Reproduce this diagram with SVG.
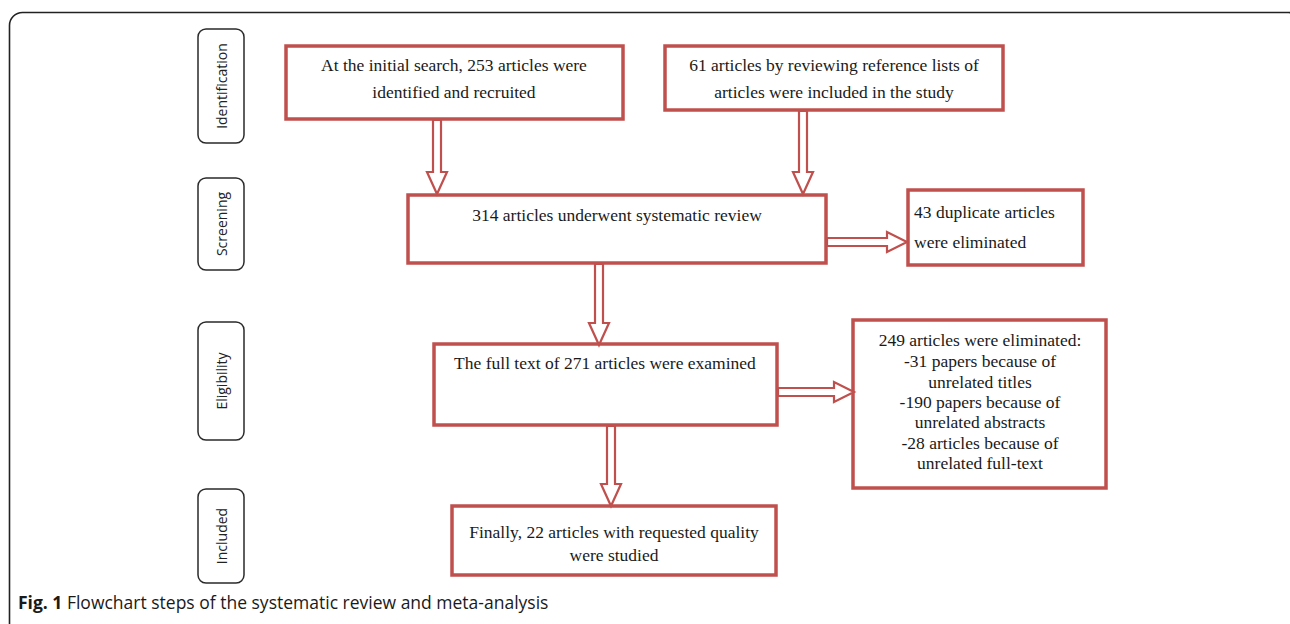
<svg xmlns="http://www.w3.org/2000/svg" width="1290" height="624" viewBox="0 0 1290 624">
<style>
.box{fill:#fff;stroke:#c0504d;stroke-width:3.5}
.phase{fill:#fff;stroke:#2a2a2a;stroke-width:1.5}
.t{font-family:"Liberation Serif","Times New Roman",serif;font-size:17.5px;fill:#1a1a1a}
.c{text-anchor:middle}
.pt{font-family:"Open Sans","Liberation Sans",sans-serif;font-size:14px;fill:#222;text-anchor:middle;dominant-baseline:central}
.arr{fill:#fff;stroke:#c0504d;stroke-width:2.2;stroke-linejoin:miter}
.cap{font-family:"Open Sans","Liberation Sans",sans-serif;font-size:17.5px;fill:#1a1a1a}
</style>
<rect x="0" y="0" width="1290" height="624" fill="#fff"/>
<rect x="9.5" y="12.5" width="1292" height="700" rx="13" fill="none" stroke="#222" stroke-width="1.6"/>

<g id="phase-identification"><rect class="phase" x="198" y="29" width="46" height="114" rx="8"/><text class="pt" transform="translate(221,86) rotate(-90)">Identification</text></g>
<g id="phase-screening"><rect class="phase" x="198" y="178" width="46" height="92" rx="8"/><text class="pt" transform="translate(221,224) rotate(-90)">Screening</text></g>
<g id="phase-eligibility"><rect class="phase" x="198" y="322" width="46" height="118" rx="8"/><text class="pt" transform="translate(221,381) rotate(-90)">Eligibility</text></g>
<g id="phase-included"><rect class="phase" x="198" y="489" width="46" height="94" rx="8"/><text class="pt" transform="translate(221,536) rotate(-90)">Included</text></g>

<g id="box-initial"><rect class="box" x="286" y="46" width="337" height="73"/>
<text class="t c" x="454" y="71">At the initial search, 253 articles were</text>
<text class="t c" x="454" y="98">identified and recruited</text></g>

<g id="box-reference"><rect class="box" x="665" y="46" width="338" height="64"/>
<text class="t c" x="834" y="71">61 articles by reviewing reference lists of</text>
<text class="t c" x="834" y="98">articles were included in the study</text></g>

<g id="box-screening"><rect class="box" x="408" y="195" width="418" height="68"/>
<text class="t c" x="617" y="221">314 articles underwent systematic review</text></g>

<g id="box-duplicates"><rect class="box" x="908" y="190" width="175" height="75"/>
<text class="t" x="914" y="218">43 duplicate articles</text>
<text class="t" x="914" y="248">were eliminated</text></g>

<g id="box-fulltext"><rect class="box" x="434" y="344" width="343" height="81"/>
<text class="t c" x="605" y="369">The full text of 271 articles were examined</text></g>

<g id="box-eliminated"><rect class="box" x="853" y="320" width="253" height="168"/>
<text class="t c" x="980" y="346">249 articles were eliminated:</text>
<text class="t c" x="980" y="367">-31 papers because of</text>
<text class="t c" x="980" y="388">unrelated titles</text>
<text class="t c" x="980" y="408">-190 papers because of</text>
<text class="t c" x="980" y="428">unrelated abstracts</text>
<text class="t c" x="980" y="449">-28 articles because of</text>
<text class="t c" x="980" y="469">unrelated full-text</text></g>

<g id="box-final"><rect class="box" x="452" y="506" width="324" height="69"/>
<text class="t c" x="614" y="538">Finally, 22 articles with requested quality</text>
<text class="t c" x="614" y="561">were studied</text></g>

<g id="connectors">
<polygon class="arr" points="433,120 441,120 441,172 447,172 437,194 427,172 433,172"/>
<polygon class="arr" points="799,111 807,111 807,172 813,172 803,194 793,172 799,172"/>
<polygon class="arr" points="595,264 603,264 603,323 609,323 599,345 589,323 595,323"/>
<polygon class="arr" points="607,426 615,426 615,484 621,484 611,506 601,484 607,484"/>
<polygon class="arr" points="827,238 887,238 887,232 907,242 887,252 887,246 827,246"/>
<polygon class="arr" points="778,388 834,388 834,382 854,392 834,402 834,396 778,396"/>
</g>

<text class="cap" x="18" y="609"><tspan font-weight="bold">Fig. 1</tspan> Flowchart steps of the systematic review and meta-analysis</text>
</svg>
